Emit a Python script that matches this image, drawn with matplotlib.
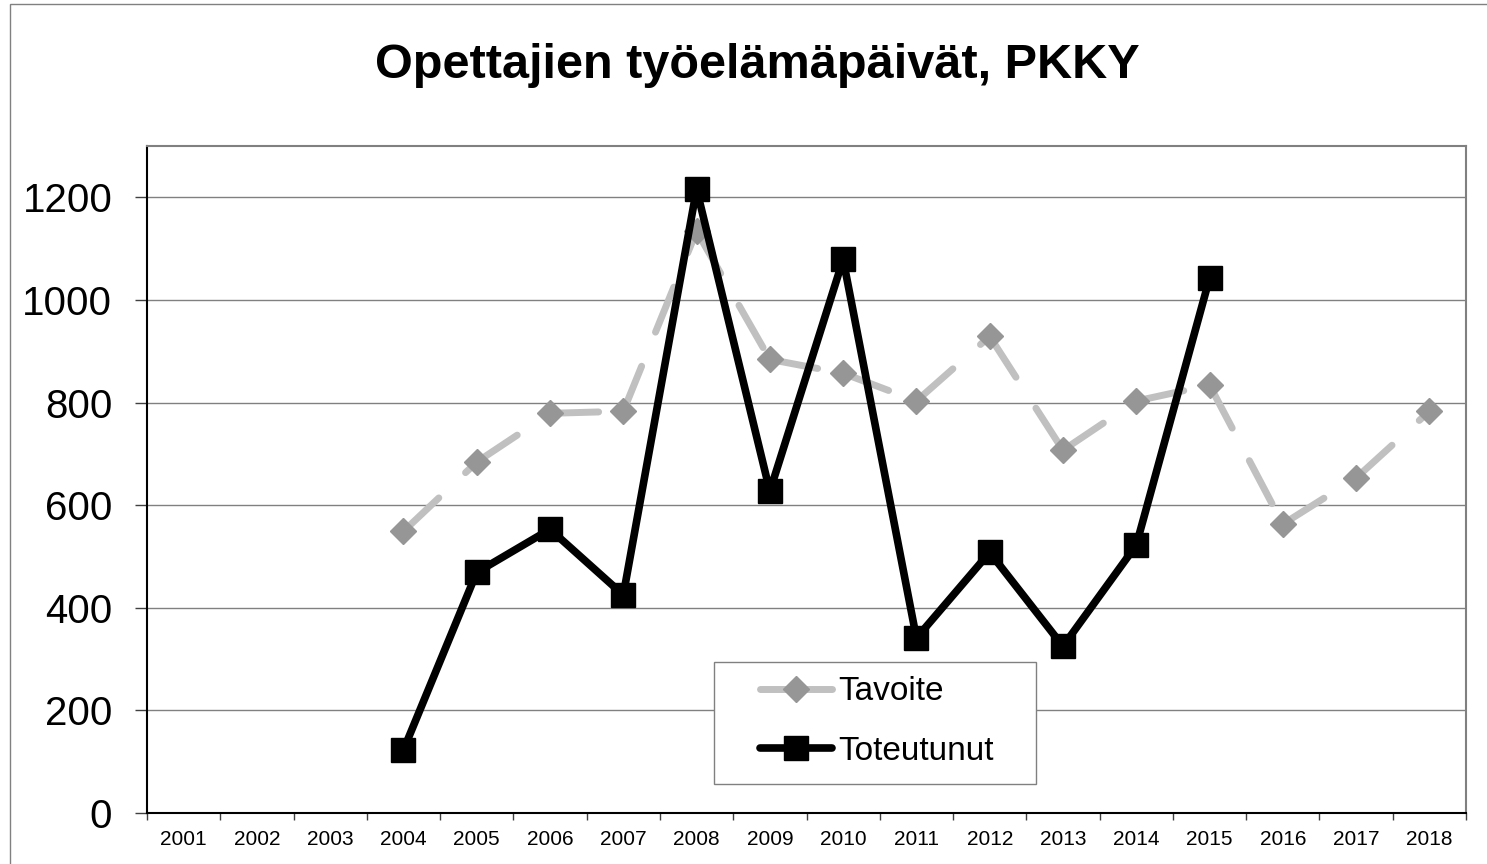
import numpy as np
import matplotlib.pyplot as plt
from matplotlib.patches import Rectangle

years = ["2001", "2002", "2003", "2004", "2005", "2006", "2007", "2008", "2009",
         "2010", "2011", "2012", "2013", "2014", "2015", "2016", "2017", "2018"]
tavoite = [None, None, None, 549, 684, 779, 783, 1134, 884,
           857, 803, 929, 707, 803, 834, 563, 653, 783]
toteutunut = [None, None, None, 123, 469, 553, 425, 1216, 627,
              1079, 341, 508, 325, 522, 1042, None, None, None]

plt.rcParams['font.family'] = ['Liberation Sans', 'DejaVu Sans']

fig = plt.figure(figsize=(14.87, 8.64), dpi=100)
ax = fig.add_axes([147 / 1487, 1 - 813 / 864, 1319 / 1487, 667 / 864])

# outer chart border (only top/left visible in the picture)
fig.patches.append(Rectangle((10 / 1487, -0.1), 1.2, 1 - 4 / 864 + 0.1,
                             transform=fig.transFigure, fill=False,
                             edgecolor="#808080", linewidth=1.0))

x = np.arange(len(years))
tav = np.array([np.nan if v is None else v for v in tavoite], dtype=float)
tot = np.array([np.nan if v is None else v for v in toteutunut], dtype=float)

# Excel restarts the dash pattern at every point -> one segment at a time
for i in range(len(x) - 1):
    if np.isnan(tav[i]) or np.isnan(tav[i + 1]):
        continue
    ax.plot(x[i:i + 2], tav[i:i + 2], color="#c0c0c0", linewidth=5,
            dashes=(7, 5.3), dash_capstyle="round", zorder=3)
ax.plot(x, tav, linestyle="none", marker="D", markersize=13,
        markerfacecolor="#969696", markeredgecolor="#969696", zorder=3)

ax.plot(x, tot, color="black", linewidth=5.5, solid_joinstyle="round",
        marker="s", markersize=17, markerfacecolor="black",
        markeredgecolor="black", zorder=4)

# legend handles
h_tav, = ax.plot([], [], color="#c0c0c0", linewidth=5, solid_capstyle="round",
                 marker="D", markersize=13, markerfacecolor="#969696",
                 markeredgecolor="#969696")
h_tot, = ax.plot([], [], color="black", linewidth=5.5, solid_capstyle="round",
                 marker="s", markersize=17, markerfacecolor="black",
                 markeredgecolor="black")

ax.set_xlim(-0.5, len(years) - 0.5)
ax.set_ylim(0, 1300)

ax.set_yticks(np.arange(0, 1201, 200))
ax.set_xticks(x)
ax.set_xticklabels(years)
ax.set_xticks(np.arange(-0.5, len(years)), minor=True)

ax.tick_params(axis="y", which="major", labelsize=29, length=9, width=1,
               direction="out", color="#404040", pad=16)
ax.tick_params(axis="x", which="major", labelsize=15, length=0, pad=12)
ax.tick_params(axis="x", which="minor", length=5, width=1, direction="out",
               color="#404040")

ax.yaxis.grid(True, color="#808080", linewidth=1.0)
ax.set_axisbelow(True)

ax.spines["left"].set_color("black")
ax.spines["bottom"].set_color("black")
ax.spines["left"].set_linewidth(1.5)
ax.spines["bottom"].set_linewidth(1.5)
ax.spines["top"].set_color("#808080")
ax.spines["right"].set_color("#808080")
ax.spines["top"].set_linewidth(1.5)
ax.spines["right"].set_linewidth(1.5)

fig.text(757 / 1487, 1 - 66 / 864, "Opettajien työelämäpäivät, PKKY",
         ha="center", va="center", fontsize=35, fontweight="bold")

# legend box drawn by hand, legend itself without frame
ax.add_patch(Rectangle((0.43, 0.0435), 0.244, 0.183, transform=ax.transAxes,
                       facecolor="white", edgecolor="#808080", linewidth=1.0,
                       zorder=5))
leg = ax.legend([h_tav, h_tot], ["Tavoite", "Toteutunut"],
                loc="center left", bbox_to_anchor=(0.4647, 0.137),
                fontsize=24, numpoints=1, handlelength=2.16,
                handletextpad=0.2, labelspacing=0.85, borderpad=0,
                borderaxespad=0, frameon=False)
leg.set_zorder(6)

plt.savefig("out.png", dpi=100)
